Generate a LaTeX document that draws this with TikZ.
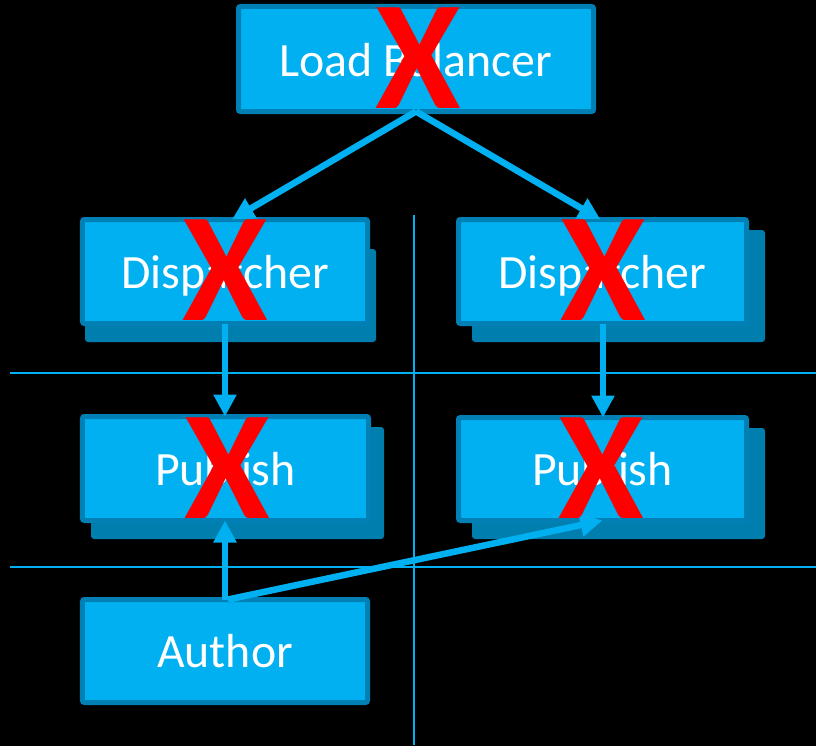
\documentclass[tikz,border=0pt]{standalone}
\usepackage{fontspec}
\setmainfont{Carlito}
\usetikzlibrary{arrows.meta}
\definecolor{boxfill}{HTML}{00B0F0}
\definecolor{boxline}{HTML}{0080B4}
\definecolor{shadowfill}{HTML}{007FAF}
\definecolor{xred}{HTML}{FF0000}
\begin{document}
\begin{tikzpicture}[x=1bp,y=-1bp,
  box/.style={draw=boxline, fill=boxfill, line width=5bp, rounded corners=2bp,
    text=white, font=\fontsize{48}{48}\selectfont, inner sep=0pt, outer sep=0pt},
  lbl/.style={text=white, font=\fontsize{48}{48}\selectfont, inner sep=0pt},
  shadowbox/.style={fill=shadowfill, rounded corners=3bp},
  cross/.style={text=xred, font=\bfseries\fontsize{156}{156}\selectfont, inner sep=0pt},
  conn/.style={draw=boxfill, line width=6.5bp, -{Triangle[length=22bp,width=22bp]}},
  gridline/.style={draw=boxfill, line width=2bp}]
\fill[black] (0,0) rectangle (816,746);
\useasboundingbox (0,0) rectangle (816,746);

% separator lines
\draw[gridline] (10,373) -- (816,373);
\draw[gridline] (10,567) -- (816,567);
\draw[gridline] (414,215) -- (414,745);

% shadows
\fill[shadowbox] (85,249) rectangle (376,342);
\fill[shadowbox] (472,230) rectangle (765,342);
\fill[shadowbox] (91,427) rectangle (384,539);
\fill[shadowbox] (472,428) rectangle (765,539);

% boxes
\node[box, minimum width=355bp, minimum height=105bp] (lb) at (416,59) {};
\node[box, minimum width=285bp, minimum height=104bp] (dl) at (225,271.5) {};
\node[box, minimum width=288bp, minimum height=104bp] (dr) at (602.5,271.5) {};
\node[box, minimum width=286bp, minimum height=104bp] (pl) at (225.5,468.5) {};
\node[box, minimum width=288bp, minimum height=103bp] (pr) at (602.5,469) {};
\node[box, minimum width=285bp, minimum height=103bp] (au) at (225,651) {};

% labels
\node[lbl, anchor=base] (tlb) at ([yshift=-18bp]lb.center) {Load Balancer};
\node[lbl, anchor=base] (tdl) at ([yshift=-16.5bp]dl.center) {Dispatcher};
\node[lbl, anchor=base] (tdr) at ([yshift=-16.5bp]dr.center) {Dispatcher};
\node[lbl, anchor=base] (tpl) at ([yshift=-16.5bp]pl.center) {Publish};
\node[lbl, anchor=base] (tpr) at ([yshift=-16.5bp]pr.center) {Publish};
\node[lbl, anchor=base] (tau) at ([yshift=-16.5bp]au.center) {Author};

% connectors
\draw[conn] (lb.south) -- ([xshift=7bp]dl.north);
\draw[conn] (lb.south) -- ([xshift=-2bp]dr.north);
\draw[conn] (dl.south) -- (dl.south |- pl.north);
\draw[conn] ([xshift=0.5bp]dr.south) -- ([xshift=0.5bp]dr.south |- pr.north);
\draw[conn] (au.north) -- (au.north |- pl.south);
\draw[conn] ([xshift=3bp]au.north) -- (pr.south);

% red crosses
\node[cross] (xlb) at (418,58) {X};
\node[cross] (xdl) at (225,270) {X};
\node[cross] (xdr) at (603,270) {X};
\node[cross] (xpl) at (227,468) {X};
\node[cross] (xpr) at (601,468) {X};
\end{tikzpicture}
\end{document}
